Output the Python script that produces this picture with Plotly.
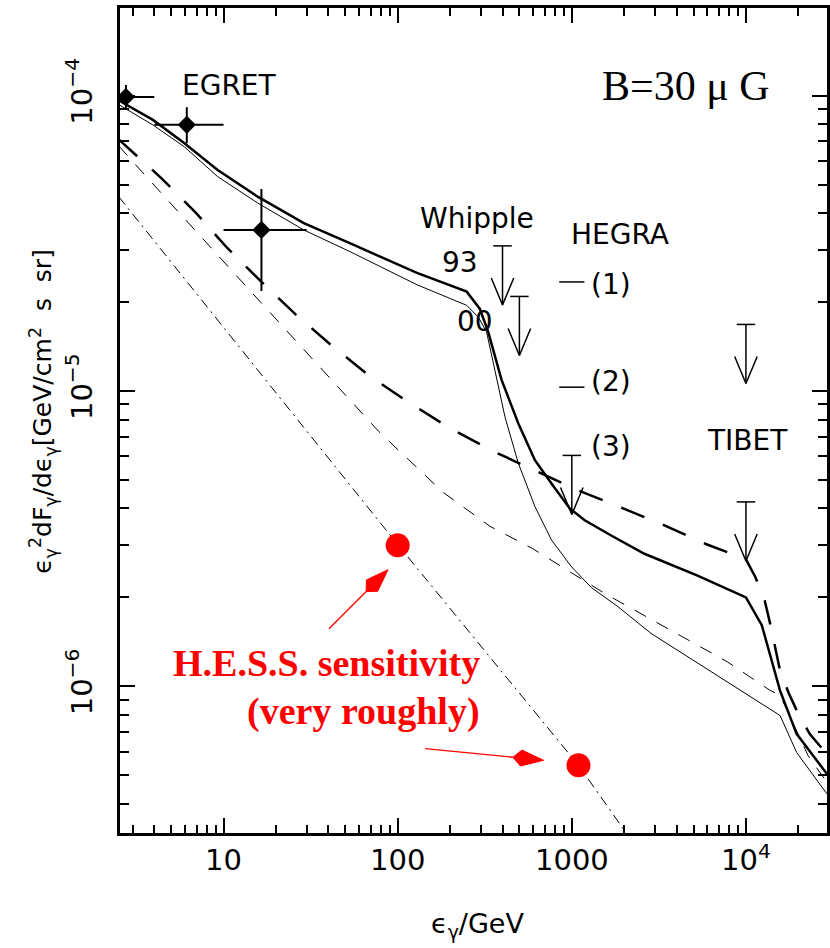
import numpy as np
import plotly.graph_objects as go

# ---------------- data: photon energy [GeV], E^2 dF/dE [GeV/cm^2 s sr] ----------------
# thick solid: total emission
thick_E = [2.5, 3.93, 5.96, 9.25, 15.7, 28.9, 53.5, 129, 249, 296, 331, 395, 493, 614, 764,
           973, 1186, 1683, 2612, 5272, 10000, 12330, 15700, 19540, 29170]
thick_F = [9.64e-5, 8.28e-5, 6.90e-5, 5.60e-5, 4.55e-5, 3.70e-5, 3.16e-5, 2.51e-5, 2.17e-5,
           1.90e-5, 1.585e-5, 1.09e-5, 7.76e-6, 5.83e-6, 4.86e-6, 4.00e-6, 3.65e-6, 3.24e-6,
           2.81e-6, 2.37e-6, 2.00e-6, 1.61e-6, 9.66e-7, 6.90e-7, 5.05e-7]
# thin solid
thin_E = [2.5, 3.93, 5.96, 9.25, 15.7, 28.9, 53.5, 129, 249, 290, 324, 371, 414, 493, 614, 764,
          995, 1294, 1841, 2851, 7816, 15700, 19540, 29170]
thin_F = [9.33e-5, 7.96e-5, 6.71e-5, 5.32e-5, 4.33e-5, 3.51e-5, 2.96e-5, 2.29e-5, 1.95e-5,
          1.78e-5, 1.585e-5, 1.09e-5, 8.13e-6, 5.69e-6, 4.06e-6, 3.13e-6, 2.54e-6, 2.16e-6,
          1.86e-6, 1.51e-6, 1.03e-6, 7.96e-7, 5.97e-7, 4.32e-7]
# thick long-dashed
ldash_E = [2.5, 4.42, 6.92, 10.5, 16.4, 26.1, 41.5, 68.1, 114, 196, 342, 600, 1072, 1897, 3428,
           5984, 10000, 11300, 12820, 13770, 14690, 15700, 17540, 20000, 23280, 29170]
ldash_F = [7.11e-5, 5.24e-5, 4.02e-5, 3.05e-5, 2.35e-5, 1.81e-5, 1.43e-5, 1.13e-5, 9.20e-6,
           7.53e-6, 6.31e-6, 5.40e-6, 4.62e-6, 4.04e-6, 3.50e-6, 3.02e-6, 2.69e-6, 2.35e-6,
           1.95e-6, 1.63e-6, 1.355e-6, 1.13e-6, 9.53e-7, 8.05e-7, 6.89e-7, 5.89e-7]
# thin short-dashed
sdash_E = [2.5, 3.44, 10.8, 48.4, 78.0, 183, 339, 593, 1570, 7816, 13770, 15700, 22750, 29170]
sdash_F = [6.76e-5, 5.48e-5, 2.61e-5, 9.95e-6, 7.28e-6, 4.53e-6, 3.48e-6, 2.93e-6, 2.05e-6,
           1.21e-6, 9.68e-7, 9.33e-7, 5.82e-7, 4.73e-7]
# dash-dotted
ddot_E = [2.5, 100, 1092, 2188]
ddot_F = [4.55e-5, 3.02e-6, 5.40e-7, 3.02e-7]

# EGRET points with bins and errors
egret_E = [2.75, 6.15, 16.5]
egret_E_lo = [2.0, 4.0, 10.0]
egret_E_hi = [4.0, 10.0, 30.0]
egret_F = [9.9e-5, 7.97e-5, 3.51e-5]
egret_F_lo = [9.0e-5, 6.9e-5, 2.18e-5]
egret_F_hi = [1.087e-4, 9.14e-5, 4.83e-5]

# upper limits (value at the bar): Whipple 93, Whipple 00, HEGRA (3), TIBET x2
ul_E = [400, 500, 1000, 10000, 10000]
ul_F = [3.1e-5, 2.09e-5, 6.05e-6, 1.68e-5, 4.21e-6]

# HEGRA flux levels (1), (2)
hegra_E = [1000, 1000]
hegra_F = [2.34e-5, 1.03e-5]

# H.E.S.S. sensitivity points
hess_E = [100, 1092]
hess_F = [3.0e-6, 5.4e-7]

x_tickvals = [10, 100, 1000, 10000]
x_ticktext = ["10", "100", "1000", "10<sup>4</sup>"]
y_tickvals = [1e-6, 1e-5, 1e-4]
y_ticktext = ["10<sup>\u22126</sup>", "10<sup>\u22125</sup>", "10<sup>\u22124</sup>"]

# ---------------- geometry of the frame ----------------
W, H = 830, 948
ML, MR, MT, MB = 120, 0, 8, 115
XR = [0.4053, 4.4655]
YR = [-6.497, -3.703]
PXX = (W - ML - MR) / (XR[1] - XR[0])   # pixels per decade, x
PXY = (H - MT - MB) / (YR[1] - YR[0])   # pixels per decade, y

minor_x = [m * 10 ** k for k in range(0, 5) for m in range(2, 10)]
minor_y = [m * 10.0 ** k for k in range(-7, -3) for m in range(2, 10)]

fig = go.Figure()

fig.add_trace(go.Scatter(x=ddot_E, y=ddot_F, mode="lines",
                         line=dict(color="black", width=1, dash="10px,5px,2px,5px")))
fig.add_trace(go.Scatter(x=sdash_E, y=sdash_F, mode="lines",
                         line=dict(color="black", width=1, dash="13px,12px")))
fig.add_trace(go.Scatter(x=thin_E, y=thin_F, mode="lines",
                         line=dict(color="black", width=1)))
fig.add_trace(go.Scatter(x=ldash_E, y=ldash_F, mode="lines",
                         line=dict(color="black", width=2.5, dash="25px,20px")))
fig.add_trace(go.Scatter(x=thick_E, y=thick_F, mode="lines",
                         line=dict(color="black", width=2.5)))

# EGRET
fig.add_trace(go.Scatter(
    x=egret_E, y=egret_F, mode="markers",
    marker=dict(symbol="diamond", size=14, color="black"),
    error_x=dict(type="data", symmetric=False,
                 array=[h - e for h, e in zip(egret_E_hi, egret_E)],
                 arrayminus=[e - l for e, l in zip(egret_E, egret_E_lo)],
                 thickness=2, width=0, color="black"),
    error_y=dict(type="data", symmetric=False,
                 array=[h - f for h, f in zip(egret_F_hi, egret_F)],
                 arrayminus=[f - l for f, l in zip(egret_F, egret_F_lo)],
                 thickness=2, width=0, color="black"),
))

# upper limits: bar, shaft and open head
ARROW_DEC = 0.2
BAR_PX, HEAD_W_PX, HEAD_L_PX = 9.3, 11.3, 27
ux, uy = [], []
for e, f in zip(ul_E, ul_F):
    lx, ly = np.log10(e), np.log10(f)
    tip = ly - ARROW_DEC
    ux += [10 ** (lx - BAR_PX / PXX), 10 ** (lx + BAR_PX / PXX), None]
    uy += [f, f, None]
    ux += [e, e, None]
    uy += [f, 10 ** tip, None]
    ux += [10 ** (lx - HEAD_W_PX / PXX), e, 10 ** (lx + HEAD_W_PX / PXX), None]
    uy += [10 ** (tip + HEAD_L_PX / PXY), 10 ** tip, 10 ** (tip + HEAD_L_PX / PXY), None]
fig.add_trace(go.Scatter(x=ux, y=uy, mode="lines", line=dict(color="black", width=1.5)))

fig.add_trace(go.Scatter(x=hegra_E, y=hegra_F, mode="markers",
                         marker=dict(symbol="line-ew", size=18,
                                     line=dict(color="black", width=1.5))))

# H.E.S.S. points and pointer arrows
fig.add_trace(go.Scatter(x=hess_E, y=hess_F, mode="markers",
                         marker=dict(symbol="circle", size=24, color="#ff0000")))

# pointer offsets from each dot centre, in pixels (screen: +x right, +y down)
pointer_tip = [(-9.7, 24.3), (-35.0, -5.0)]
pointer_tail = [(-69.0, 83.3), (-154.0, -16.7)]
HEAD_LEN, HEAD_HALF = 31.0, 8.0
for (e, f), (tx, ty), (sx, sy) in zip(zip(hess_E, hess_F), pointer_tip, pointer_tail):
    cx, cy = np.log10(e), np.log10(f)

    def to_data(px, py):
        return 10 ** (cx + px / PXX), 10 ** (cy - py / PXY)

    ux_, uy_ = tx - sx, ty - sy
    n = np.hypot(ux_, uy_)
    ux_, uy_ = ux_ / n, uy_ / n
    nx_, ny_ = -uy_, ux_
    bx, by = tx - HEAD_LEN * ux_, ty - HEAD_LEN * uy_
    wx, wy = tx - 0.73 * HEAD_LEN * ux_, ty - 0.73 * HEAD_LEN * uy_
    shaft = [to_data(sx, sy), to_data(bx, by)]
    fig.add_trace(go.Scatter(x=[p[0] for p in shaft], y=[p[1] for p in shaft], mode="lines",
                             line=dict(color="#ff0000", width=1.3)))
    kite = [to_data(tx, ty), to_data(wx + HEAD_HALF * nx_, wy + HEAD_HALF * ny_),
            to_data(bx, by), to_data(wx - HEAD_HALF * nx_, wy - HEAD_HALF * ny_),
            to_data(tx, ty)]
    fig.add_trace(go.Scatter(x=[p[0] for p in kite], y=[p[1] for p in kite], mode="lines",
                             fill="toself", fillcolor="#ff0000",
                             line=dict(color="#ff0000", width=1)))

SANS = "DejaVu Sans"
SERIF = "Liberation Serif"


def label(text, x, y, size=28, family=SANS, color="black", xanchor="center", bold=False):
    fig.add_annotation(text=text, x=x, y=y, xref="x", yref="y", showarrow=False,
                       xanchor=xanchor, yanchor="middle",
                       font=dict(family=family, size=size, color=color,
                                 weight="bold" if bold else "normal"))


label("EGRET", 1.0315, -3.967)
label("B=30 \u03bc G", 3.653, -3.967, size=42, family=SERIF)
label("Whipple", 2.458, -4.4175)
label("93", 2.358, -4.566)
label("00", 2.444, -4.766)
label("HEGRA", 3.276, -4.470)
label("(1)", 3.227, -4.638)
label("(2)", 3.227, -4.967)
label("(3)", 3.227, -5.187)
label("TIBET", 4.011, -5.169)
label("H.E.S.S. sensitivity", 2.487, -5.9224, size=38, family=SERIF, color="#ff0000",
      xanchor="right", bold=True)
label("(very roughly)", 2.487, -6.085, size=38, family=SERIF, color="#ff0000",
      xanchor="right", bold=True)

# x tick labels, set just below the frame
for v, t in zip(x_tickvals, x_ticktext):
    fig.add_annotation(text=t, x=np.log10(v), xref="x", y=-0.0558, yref="paper",
                       showarrow=False, xanchor="center", yanchor="bottom",
                       font=dict(family=SANS, size=29, color="black"))

# axis titles
fig.add_annotation(text="\u03f5<sub>\u03b3</sub>/GeV", xref="paper", yref="paper",
                   x=0.505, y=-0.112, showarrow=False, xanchor="center", yanchor="middle",
                   font=dict(family=SANS, size=27, color="black"))
fig.add_annotation(text="\u03f5<sub>\u03b3</sub><sup>2</sup>dF<sub>\u03b3</sub>/d\u03f5<sub>\u03b3</sub>"
                        "[GeV/cm<sup>2</sup>\u00a0\u00a0s\u00a0\u00a0sr]",
                   xref="paper", yref="paper", x=-0.1099, y=0.5109, showarrow=False,
                   textangle=-90, xanchor="center", yanchor="middle",
                   font=dict(family=SANS, size=25, color="black"))

axis_common = dict(type="log", showgrid=False, zeroline=False, showline=True,
                   linecolor="black", linewidth=2.5, mirror="ticks", ticks="inside",
                   ticklen=15, tickwidth=2, tickcolor="black",
                   tickfont=dict(family=SANS, size=29, color="black"))

fig.update_layout(
    width=W, height=H,
    margin=dict(l=ML, r=MR, t=MT, b=MB),
    paper_bgcolor="white", plot_bgcolor="white",
    showlegend=False,
    xaxis=dict(axis_common, range=XR, tickmode="array", tickvals=x_tickvals,
               ticktext=x_ticktext, showticklabels=False,
               minor=dict(ticks="inside", ticklen=8, tickwidth=2, tickcolor="black",
                          tickvals=minor_x, showgrid=False)),
    yaxis=dict(axis_common, range=YR, tickmode="array", tickvals=y_tickvals,
               ticktext=y_ticktext, tickangle=-90, ticklabelstandoff=14,
               minor=dict(ticks="inside", ticklen=9, tickwidth=2, tickcolor="black",
                          tickvals=minor_y, showgrid=False)),
)

fig.write_html("out.html")
